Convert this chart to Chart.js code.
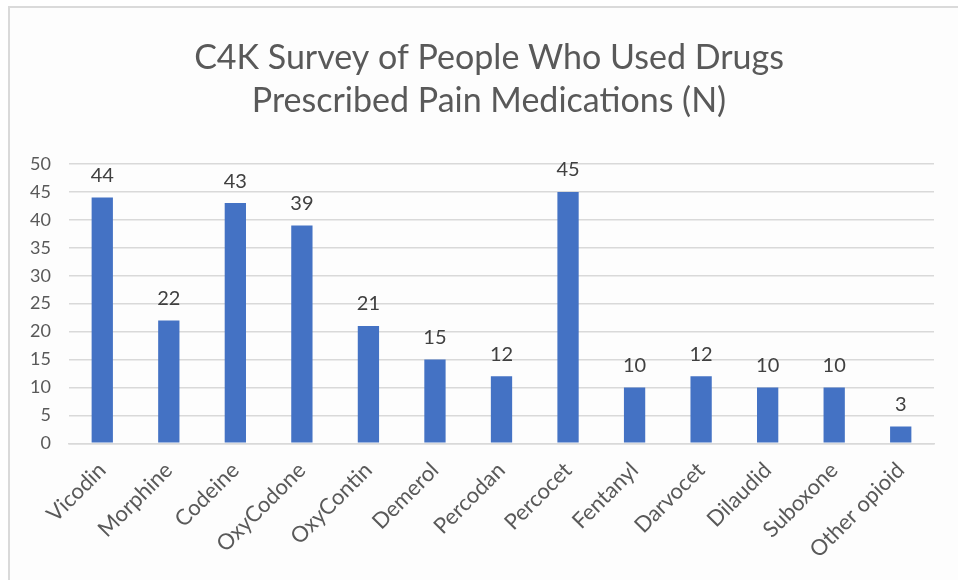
<!DOCTYPE html>
<html>
<head>
<meta charset="utf-8">
<script src="https://cdn.jsdelivr.net/npm/chart.js@4"></script>
<style>
  body { margin: 0; background: #ffffff; overflow: hidden; }
  #frame { position: absolute; left: 8px; top: 6px; width: 980px; height: 600px;
           border-left: 2px solid #dadada; border-top: 2px solid #dadada; background: #fdfdfd; }
  #wrap { position: absolute; left: 0; top: 0; width: 958px; height: 580px; }
</style>
</head>
<body>
<div id="frame"></div>
<div id="wrap"><canvas id="barChart"></canvas></div>
<script>
var drugs = ['Vicodin', 'Morphine', 'Codeine', 'OxyCodone', 'OxyContin', 'Demerol', 'Percodan',
             'Percocet', 'Fentanyl', 'Darvocet', 'Dilaudid', 'Suboxone', 'Other opioid'];
var counts = [44, 22, 43, 39, 21, 15, 12, 45, 10, 12, 10, 10, 3];
var titleLines = ['C4K Survey of People Who Used Drugs', 'Prescribed Pain Medications (N)'];

// labels above each bar (no datalabels plugin available offline)
var valueLabels = {
    id: 'valueLabels',
    afterDatasetsDraw: function(chart) {
        var c = chart.ctx;
        var meta = chart.getDatasetMeta(0);
        c.save();
        c.font = '20px Lato';
        c.fillStyle = '#404040';
        c.textAlign = 'center';
        c.textBaseline = 'bottom';
        meta.data.forEach(function(bar, i) {
            c.fillText(String(counts[i]), bar.x, bar.y - 12);
        });
        c.restore();
    }
};

var ctx = document.getElementById('barChart').getContext('2d');
var barChart = new Chart(ctx, {
    type: 'bar',
    data: {
        labels: drugs,
        datasets: [{
            label: 'N',
            data: counts,
            backgroundColor: '#4472c4',
            categoryPercentage: 1,
            barPercentage: 0.32
        }]
    },
    options: {
        responsive: true,
        maintainAspectRatio: false,
        animation: false,
        // wide left padding centres the title like the original; y axis is squeezed
        // and its labels pushed back out to the left (mirror + negative padding)
        layout: { padding: { left: 44, right: 24, top: 0, bottom: 11 } },
        plugins: {
            legend: { display: false },
            tooltip: { enabled: false },
            title: {
                display: true,
                text: titleLines,
                color: '#595959',
                font: { family: 'Lato', size: 34, weight: 'normal', lineHeight: 1.25 },
                padding: { top: 37, bottom: 42 }
            }
        },
        scales: {
            x: {
                grid: { display: false },
                border: { color: '#d9d9d9', width: 1.5 },
                ticks: {
                    color: '#595959',
                    font: { family: 'Lato', size: 22 },
                    minRotation: 45,
                    maxRotation: 45,
                    autoSkip: false,
                    padding: 6
                }
            },
            y: {
                min: 0,
                max: 50,
                afterFit: function(scale) { scale.width = 25; },
                grid: { color: '#d9d9d9', lineWidth: 1.5, drawTicks: false },
                border: { display: false },
                ticks: {
                    stepSize: 5,
                    color: '#595959',
                    font: { family: 'Lato', size: 18 },
                    mirror: true,
                    crossAlign: 'far',
                    padding: -39
                }
            }
        }
    },
    plugins: [valueLabels]
});
</script>
</body>
</html>
